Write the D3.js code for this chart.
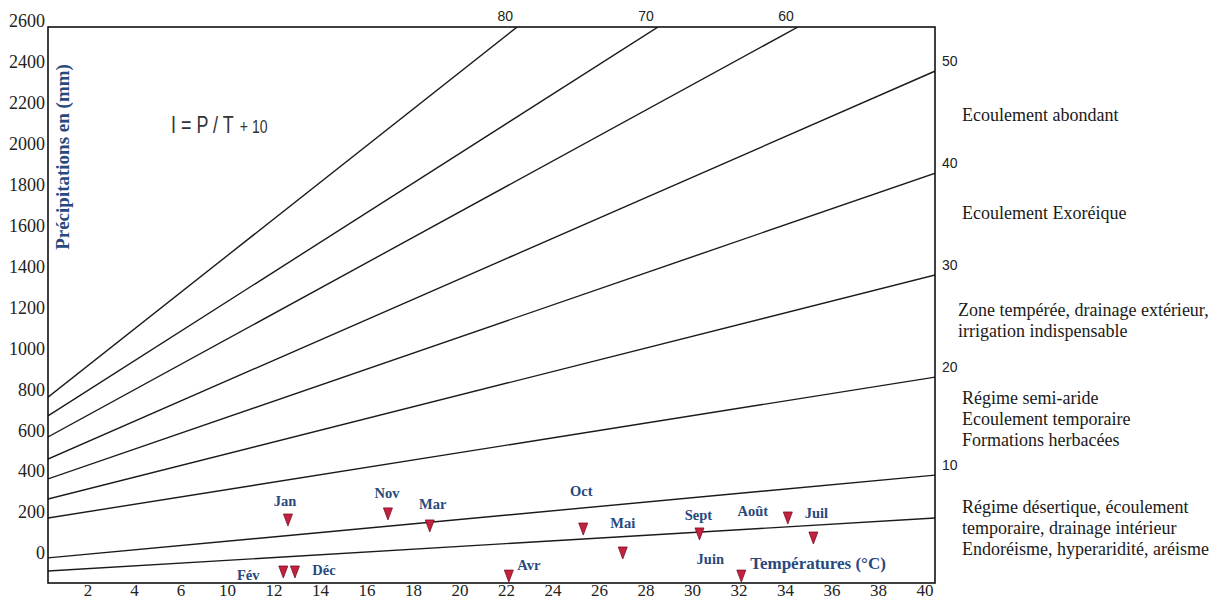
<!DOCTYPE html>
<html>
<head>
<meta charset="utf-8">
<script src="https://cdn.jsdelivr.net/npm/d3@7"></script>
<style>
  body { margin: 0; background: #fff; }
  svg { display: block; }
  .serif { font-family: "Liberation Serif", "Times New Roman", serif; }
  .sans { font-family: "Liberation Sans", Arial, sans-serif; }
</style>
</head>
<body>
<div id="chart"></div>
<script>
// Data
const xTickLabels = ["2", "4", "6", "10", "12", "14", "16", "18", "20", "22", "24", "26", "28", "30", "32", "34", "36", "38", "40"];
const yTicks = [0, 200, 400, 600, 800, 1000, 1200, 1400, 1600, 1800, 2000, 2200, 2400, 2600];

// iso-index lines of I = P / (T + 10), read at left edge and at exit point
const lineLabels = ["80", "70", "60", "50", "40", "30", "20", "10", ""];
const lineStartP = [762, 670, 567, 459, 362, 264, 171, -24, -88];
const lineEndT = [22.46, 28.52, 34.54, 40.45, 40.45, 40.45, 40.45, 40.45, 40.45];
const lineEndP = [2571, 2571, 2571, 2356, 1857, 1359, 860, 381, 171];

// monthly points
const months = ["Jan", "Fév", "Mar", "Avr", "Mai", "Juin", "Juil", "Août", "Sept", "Oct", "Nov", "Déc"];
const monthT = [12.6, 12.4, 18.7, 22.1, 27.0, 32.1, 35.2, 34.1, 30.3, 25.3, 16.9, 12.9];
const monthP = [166, -88, 137, -108, 5, -108, 78, 176, 98, 122, 196, -88];

// zone descriptions on the right
const zoneTexts = [
    ["Ecoulement abondant"],
    ["Ecoulement Exoréique"],
    ["Zone tempérée, drainage extérieur,", "irrigation indispensable"],
    ["Régime semi-aride", "Ecoulement temporaire", "Formations herbacées"],
    ["Régime désertique, écoulement", "temporaire, drainage intérieur", "Endoréisme, hyperaridité, aréisme"]
];

// Layout
const W = 1226, H = 600;
const frame = {left: 48, top: 27, right: 935, bottom: 583};
const tick0 = 88, tickStep = 46.5;
const zoneLayout = [
    {x: 962, y: 115}, {x: 962, y: 213}, {x: 958, y: 310},
    {x: 962, y: 398}, {x: 962, y: 507}
];
const labelOffsets = {
    "Jan": [-3, -18], "Fév": [-35, 4], "Mar": [3, -21], "Avr": [20, -10],
    "Mai": [0, -29], "Juin": [-31, -16], "Juil": [3, -24], "Août": [-35, -6],
    "Sept": [-1, -18], "Oct": [-2, -37], "Nov": [-1, -20], "Déc": [29, -1]
};
const blue = "#28497e";

const svg = d3.select("#chart")
    .append("svg")
    .attr("width", W)
    .attr("height", H);

// Scales: the printed tick labels are evenly spaced, so the temperature
// scale is piecewise through those label positions
const xValues = xTickLabels.map(Number);
const x = d3.scaleLinear()
    .domain(xValues)
    .range(xValues.map((d, i) => tick0 + i * tickStep));

const y = d3.scaleLinear()
    .domain([0, 2600])
    .range([553, 21]);

// Clip
svg.append("clipPath")
    .attr("id", "plot-clip")
    .append("rect")
    .attr("x", frame.left)
    .attr("y", frame.top)
    .attr("width", frame.right - frame.left)
    .attr("height", frame.bottom - frame.top);

// Iso lines
const startT = x.invert(frame.left);
const lines = lineLabels.map((label, i) => ({
    label: label,
    pts: [[startT, lineStartP[i]], [lineEndT[i], lineEndP[i]]]
}));

svg.append("g")
    .attr("clip-path", "url(#plot-clip)")
    .selectAll("path")
    .data(lines)
    .enter()
    .append("path")
    .attr("d", d => d3.line().x(p => x(p[0])).y(p => y(p[1]))(d.pts))
    .attr("fill", "none")
    .attr("stroke", "#1a1a1a")
    .attr("stroke-width", 1.4);

// Line labels: top ones for lines leaving through the top, right ones otherwise
svg.append("g")
    .selectAll("text")
    .data(lines.filter(d => d.label !== ""))
    .enter()
    .append("text")
    .attr("class", "sans")
    .attr("font-size", 14)
    .attr("fill", "#222")
    .each(function(d) {
        const end = d.pts[1];
        const t = d3.select(this);
        if (y(end[1]) <= frame.top + 1) {
            t.attr("x", x(end[0]) - 12)
             .attr("y", frame.top - 6)
             .attr("text-anchor", "middle");
        } else {
            t.attr("x", frame.right + 7)
             .attr("y", y(end[1]) - 5)
             .attr("text-anchor", "start");
        }
    })
    .text(d => d.label);

// Frame
svg.append("rect")
    .attr("x", frame.left)
    .attr("y", frame.top)
    .attr("width", frame.right - frame.left)
    .attr("height", frame.bottom - frame.top)
    .attr("fill", "none")
    .attr("stroke", "#111")
    .attr("stroke-width", 1.6);

// Y tick labels
svg.append("g")
    .selectAll("text")
    .data(yTicks)
    .enter()
    .append("text")
    .attr("class", "serif")
    .attr("x", frame.left - 3)
    .attr("y", d => y(d))
    .attr("dy", "0.35em")
    .attr("text-anchor", "end")
    .attr("font-size", 18)
    .attr("fill", "#222")
    .text(d => d);

// X tick labels
svg.append("g")
    .selectAll("text")
    .data(xValues)
    .enter()
    .append("text")
    .attr("class", "serif")
    .attr("x", d => x(d))
    .attr("y", frame.bottom + 13)
    .attr("text-anchor", "middle")
    .attr("font-size", 17)
    .attr("fill", "#222")
    .text((d, i) => xTickLabels[i]);

// Axis titles
svg.append("text")
    .attr("class", "serif")
    .attr("transform", `translate(69,157) rotate(-90)`)
    .attr("text-anchor", "middle")
    .attr("font-size", 19)
    .attr("font-weight", "bold")
    .attr("fill", blue)
    .text("Précipitations en (mm)");

svg.append("text")
    .attr("class", "serif")
    .attr("x", 818)
    .attr("y", 569)
    .attr("text-anchor", "middle")
    .attr("font-size", 17)
    .attr("font-weight", "bold")
    .attr("fill", blue)
    .text("Températures (°C)");

// Formula (condensed look)
const formula = svg.append("text")
    .attr("transform", "translate(171,133) scale(0.78,1)")
    .attr("font-family", "'Liberation Sans', Arial, sans-serif")
    .attr("fill", "#333");
formula.append("tspan").attr("font-size", 23).text("I = P / T");
formula.append("tspan").attr("font-size", 18).attr("dx", 8).text("+ 10");

// Monthly markers
const points = months.map((m, i) => ({month: m, t: monthT[i], p: monthP[i]}));

svg.append("g")
    .selectAll("path")
    .data(points)
    .enter()
    .append("path")
    .attr("d", d => {
        const cx = x(d.t), cy = y(d.p);
        return `M${cx - 4.5},${cy - 5}L${cx + 4.5},${cy - 5}L${cx},${cy + 7}Z`;
    })
    .attr("fill", "#c4203f")
    .attr("stroke", "#7a1024")
    .attr("stroke-width", 0.8);

svg.append("g")
    .selectAll("text")
    .data(points)
    .enter()
    .append("text")
    .attr("class", "serif")
    .attr("x", d => x(d.t) + labelOffsets[d.month][0])
    .attr("y", d => y(d.p) + labelOffsets[d.month][1])
    .attr("dy", "0.35em")
    .attr("text-anchor", "middle")
    .attr("font-size", 14.5)
    .attr("font-weight", "bold")
    .attr("fill", blue)
    .text(d => d.month);

// Zone descriptions
zoneTexts.forEach((lines, i) => {
    const pos = zoneLayout[i];
    const t = svg.append("text")
        .attr("class", "serif")
        .attr("font-size", 18)
        .attr("fill", "#1a1a1a");
    lines.forEach((line, j) => {
        t.append("tspan")
            .attr("x", pos.x)
            .attr("y", pos.y + j * 21)
            .attr("dy", "0.35em")
            .text(line);
    });
});
</script>
</body>
</html>
